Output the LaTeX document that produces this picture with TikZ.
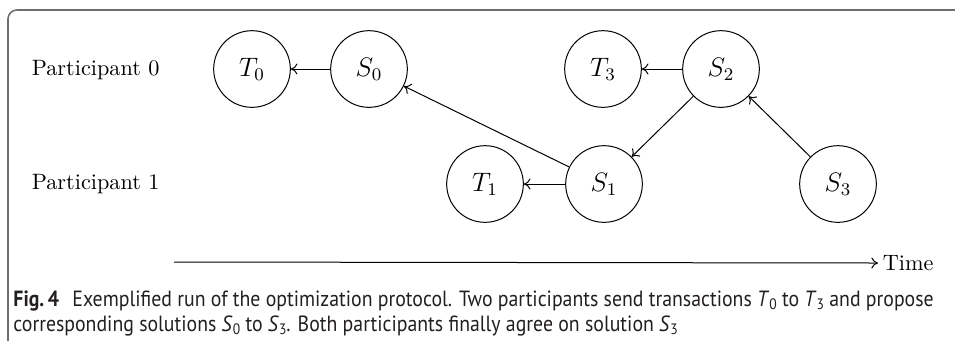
\documentclass[tikz,border=0pt]{standalone}
\usepackage{fontspec}
\newfontfamily\capfont[FakeStretch=0.9]{PT Sans}
\usetikzlibrary{arrows.meta}
\definecolor{framegray}{RGB}{110,110,110}
\definecolor{captext}{RGB}{35,31,32}
\newcommand{\capmath}[2]{\textit{#1}\raisebox{-0.35ex}{\fontsize{6.8pt}{7pt}\selectfont #2}}
\begin{document}
\begin{tikzpicture}[x=0.45pt,y=-0.45pt,
  state/.style={circle,draw,line width=0.45pt,minimum size=34.5pt,inner sep=0pt,font=\fontsize{12}{14}\selectfont},
  lane/.style={font=\fontsize{10}{12}\selectfont,anchor=west},
  flow/.style={-{To[length=3pt,width=5pt]},line width=0.45pt},
  captxt/.style={font=\capfont\fontsize{9.9}{11}\selectfont,text=captext,anchor=base west,inner sep=0pt}]
  \useasboundingbox (0,0) rectangle (955,341);
  % open frame: top and left edges with a rounded corner
  \draw[framegray,line width=0.7pt,rounded corners=4pt] (955,10) -- (8,10) -- (8,341);
  % lanes
  \node[lane] (p0) at (24,70) {Participant 0};
  \node[lane] (p1) at (24,184) {Participant 1};
  % states
  \node[state] (T0) at (252,69) {$T_0$};
  \node[state] (S0) at (369,69) {$S_0$};
  \node[state] (T3) at (603,69) {$T_3$};
  \node[state] (S2) at (721,69) {$S_2$};
  \node[state] (T1) at (485,184) {$T_1$};
  \node[state] (S1) at (604,184) {$S_1$};
  \node[state] (S3) at (838,184) {$S_3$};
  % messages
  \draw[flow] (S0) -- (T0);
  \draw[flow] (S2) -- (T3);
  \draw[flow] (S1) -- (T1);
  \draw[flow] (S1) -- (S0);
  \draw[flow] (S2) -- (S1);
  \draw[flow] (S3) -- (S2);
  % time axis
  \coordinate (t0) at (174,262);
  \node[lane,inner sep=2pt] (time) at (878,263) {Time};
  \draw[flow] (t0) -- (time.west);
  % caption
  \node[captxt] (c1) at (13,306) {\textbf{Fig.\,4}\hspace{0.6em}Exemplified run of the optimization protocol. Two participants send transactions \capmath{T}{0} to \capmath{T}{3} and propose};
  \node[captxt] (c2) at (13,331) {corresponding solutions \capmath{S}{0} to \capmath{S}{3}. Both participants finally agree on solution \capmath{S}{3}};
\end{tikzpicture}
\end{document}
